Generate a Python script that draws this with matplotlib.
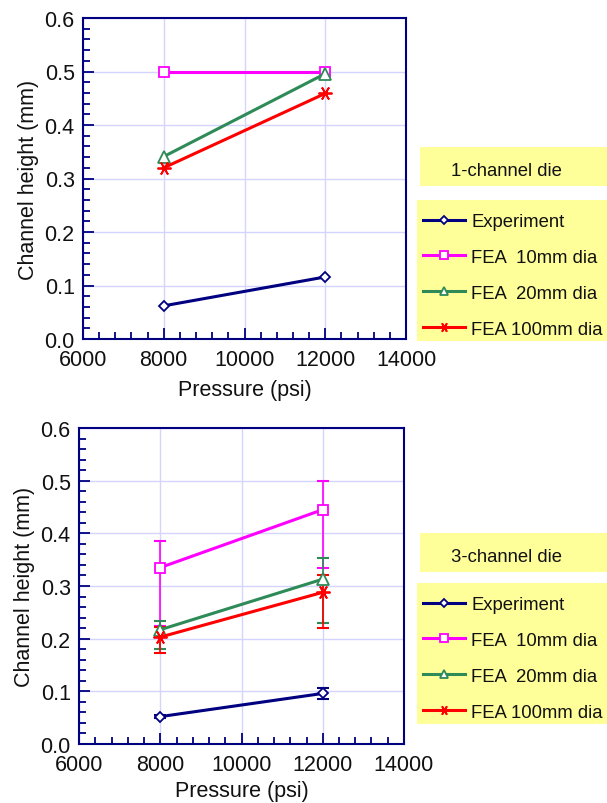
import matplotlib
matplotlib.use("Agg")
import matplotlib.pyplot as plt
from matplotlib.patches import Rectangle
from matplotlib.ticker import MultipleLocator

plt.rcParams['font.family'] = ['Liberation Sans', 'DejaVu Sans']

pressure = [8000, 12000]
series_labels = ["Experiment", "FEA  10mm dia", "FEA  20mm dia", "FEA 100mm dia"]

# 1-channel die
exp_1 = [0.062, 0.116]
fea10_1 = [0.500, 0.500]
fea20_1 = [0.341, 0.496]
fea100_1 = [0.320, 0.459]

# 3-channel die (values with asymmetric errors: lower, upper)
exp_3 = [0.052, 0.096]
exp_3_lo = [0.003, 0.011]
exp_3_hi = [0.003, 0.011]
fea10_3 = [0.335, 0.445]
fea10_3_lo = [0.110, 0.110]
fea10_3_hi = [0.050, 0.055]
fea20_3 = [0.217, 0.313]
fea20_3_lo = [0.037, 0.083]
fea20_3_hi = [0.016, 0.040]
fea100_3 = [0.203, 0.288]
fea100_3_lo = [0.030, 0.068]
fea100_3_hi = [0.020, 0.033]

NAVY = '#000080'
colors = [NAVY, '#FF00FF', '#2E8B57', '#FF0000']
markers = ['D', 's', '^', (6, 2, 90)]
msizes = [5.5, 7.5, 8, 10]
YELLOW = '#FFFF99'
TXT = '#111111'

fig = plt.figure(figsize=(6.07, 8.04), dpi=100)


def style_axes(ax, xlabelpad):
    ax.set_xlim(6000, 14000)
    ax.set_ylim(0, 0.6)
    ax.xaxis.set_major_locator(MultipleLocator(2000))
    ax.xaxis.set_minor_locator(MultipleLocator(400))
    ax.yaxis.set_major_locator(MultipleLocator(0.1))
    ax.yaxis.set_minor_locator(MultipleLocator(0.02))
    ax.yaxis.set_major_formatter(matplotlib.ticker.FormatStrFormatter('%.1f'))
    ax.grid(True, which='major', color='#D4D4FF', lw=1.0, zorder=0)
    ax.set_axisbelow(True)
    for s in ax.spines.values():
        s.set_color(NAVY)
        s.set_linewidth(1.5)
    ax.tick_params(which='both', direction='in', color=NAVY, top=False, right=False,
                   labelsize=15.5, labelcolor=TXT, width=1.3)
    ax.tick_params(which='major', length=8)
    ax.tick_params(which='minor', length=5)
    ax.tick_params(axis='x', which='major', pad=7)
    ax.tick_params(axis='y', which='major', pad=6)
    ax.set_xlabel('Pressure (psi)', fontsize=15.5, labelpad=xlabelpad, color=TXT)
    ax.set_ylabel('Channel height (mm)', fontsize=15.5, labelpad=4, color=TXT)


def add_legend(title, dy_title, dy, handles):
    # title box
    x0 = 420 / 607
    fig.patches.append(Rectangle((x0, 1 - (187 + dy_title) / 804), 1 - x0, 39 / 804,
                                 transform=fig.transFigure, facecolor=YELLOW,
                                 edgecolor='none', zorder=0))
    fig.text(451 / 607, 1 - (172 + dy_title) / 804, title, fontsize=13.3,
             va='center', ha='left', color=TXT)
    x1 = 417 / 607
    fig.patches.append(Rectangle((x1, 1 - (342 + dy) / 804), 1 - x1, 141 / 804,
                                 transform=fig.transFigure, facecolor=YELLOW,
                                 edgecolor='none', zorder=0))
    fig.legend(handles=handles, labels=series_labels, loc='upper left',
               bbox_to_anchor=(423 / 607, 1 - (214 + dy) / 804),
               frameon=False, fontsize=13.3, handlelength=2.3, handletextpad=0.3,
               labelspacing=1.02, borderaxespad=0, borderpad=0, markerscale=0.7,
               labelcolor=TXT)


# ---- Top axes ----
ax1 = fig.add_axes([83 / 607, 1 - 340 / 804, 323 / 607, 321 / 804])
style_axes(ax1, 7)
h1 = []
for ys, c, m, ms in zip([exp_1, fea10_1, fea20_1, fea100_1], colors, markers, msizes):
    ln, = ax1.plot(pressure, ys, color=c, lw=2.2, marker=m, ms=ms,
                   mfc='white' if m != markers[3] else c, mec=c, mew=1.3, zorder=3)
    h1.append(ln)
add_legend('1-channel die', 0, 0, h1)

# ---- Bottom axes ----
ax2 = fig.add_axes([79 / 607, 1 - 745 / 804, 325 / 607, 316 / 804])
style_axes(ax2, 4)
h2 = []
data3 = [(exp_3, exp_3_lo, exp_3_hi), (fea10_3, fea10_3_lo, fea10_3_hi),
         (fea20_3, fea20_3_lo, fea20_3_hi), (fea100_3, fea100_3_lo, fea100_3_hi)]
for (ys, lo, hi), c, m, ms in zip(data3, colors, markers, msizes):
    ax2.errorbar(pressure, ys, yerr=[lo, hi], fmt='none', ecolor=c, elinewidth=1.2,
                 capsize=4, capthick=1.5, zorder=2)
    ln, = ax2.plot(pressure, ys, color=c, lw=2.2, marker=m, ms=ms,
                   mfc='white' if m != markers[3] else c, mec=c, mew=1.3, zorder=3)
    h2.append(ln)
add_legend('3-channel die', 386, 383, h2)

fig.savefig('out.png', dpi=100, facecolor='white')
